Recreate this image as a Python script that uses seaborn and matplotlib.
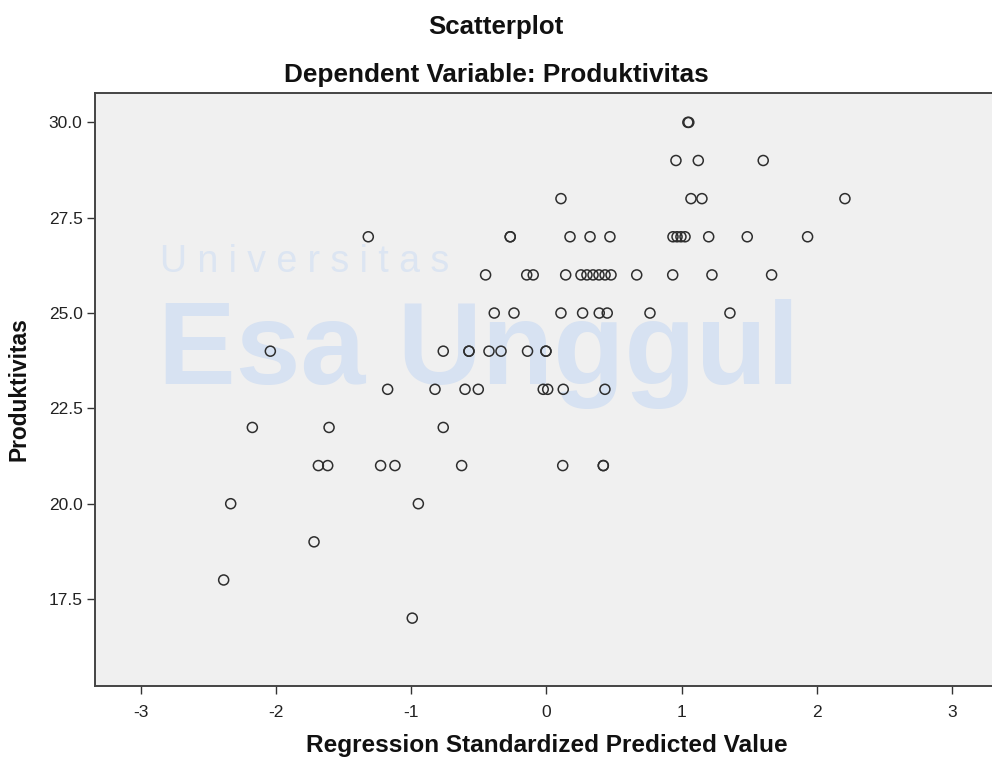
import matplotlib
matplotlib.use("Agg")
import matplotlib.pyplot as plt
import seaborn as sns
import pandas as pd

# ---- data ----
std_predicted = [
    1.045, 1.052,                                   # 30
    0.957, 1.122, 1.602,                            # 29
    0.107, 1.068, 1.149, 2.206,                     # 28
    -1.317, -0.268, -0.268, 0.174, 0.322, 0.469,
    0.935, 0.965, 0.994, 1.024, 1.199, 1.484, 1.930,  # 27
    -0.450, -0.146, -0.098, 0.142, 0.255, 0.299, 0.344,
    0.388, 0.433, 0.477, 0.667, 0.933, 1.223, 1.664,  # 26
    -0.386, -0.240, 0.107, 0.267, 0.390, 0.449, 0.765, 1.356,  # 25
    -2.041, -0.763, -0.573, -0.573, -0.425, -0.336, -0.140, -0.004, -0.004,  # 24
    -1.174, -0.824, -0.602, -0.504, -0.024, 0.009, 0.124, 0.432,  # 23
    -2.174, -1.607, -0.763,                         # 22
    -1.686, -1.617, -1.226, -1.120, -0.627, 0.120, 0.420, 0.420,  # 21
    -2.334, -0.947,                                 # 20
    -1.718,                                         # 19
    -2.386,                                         # 18
    -0.992,                                         # 17
]
produktivitas = (
    [30] * 2 + [29] * 3 + [28] * 4 + [27] * 13 + [26] * 14 + [25] * 8 +
    [24] * 9 + [23] * 8 + [22] * 3 + [21] * 8 + [20] * 2 + [19] + [18] + [17]
)
x_ticks = [-3, -2, -1, 0, 1, 2, 3]
x_tick_labels = ["-3", "-2", "-1", "0", "1", "2", "3"]
y_ticks = [17.5, 20.0, 22.5, 25.0, 27.5, 30.0]
y_tick_labels = ["17.5", "20.0", "22.5", "25.0", "27.5", "30.0"]

df = pd.DataFrame({"Regression Standardized Predicted Value": std_predicted,
                   "Produktivitas": produktivitas})

sns.set_style("white")
plt.rcParams["font.family"] = ["Liberation Sans", "DejaVu Sans"]

fig = plt.figure(figsize=(9.92, 7.62), dpi=100)
ax = fig.add_axes([95 / 992, 1 - 686 / 762, 1 - 95 / 992, (686 - 93) / 762])
ax.set_facecolor("#F0F0F0")

# faint watermark text (behind the data)
ax.text(0.073, 0.715, "U n i v e r s i t a s", transform=ax.transAxes,
        fontsize=27, color="#DCE5F2", ha="left", va="center", zorder=0)
ax.text(0.070, 0.560, "Esa Unggul", transform=ax.transAxes, fontsize=84,
        fontweight="bold", color="#D7E2F2", ha="left", va="center", zorder=0)

sns.scatterplot(data=df, x="Regression Standardized Predicted Value",
                y="Produktivitas", ax=ax, marker="o", s=52,
                facecolor="none", edgecolor="#2E2E2E", linewidth=1.1,
                zorder=3)

ax.set_xlim(-3.337, 3.293)
ax.set_ylim(15.22, 30.77)
ax.set_xticks(x_ticks)
ax.set_xticklabels(x_tick_labels)
ax.set_yticks(y_ticks)
ax.set_yticklabels(y_tick_labels)
ax.tick_params(axis="both", direction="out", length=6, width=1.0,
               color="#333333", labelsize=12.5, labelcolor="#222222",
               bottom=True, left=True, top=False, right=False)
ax.tick_params(axis="x", pad=8)
ax.tick_params(axis="y", pad=3)

for side in ["left", "bottom", "top"]:
    ax.spines[side].set_color("#444444")
    ax.spines[side].set_linewidth(1.4)
ax.spines["right"].set_visible(False)

ax.set_xlabel("Regression Standardized Predicted Value", fontsize=17.6,
              fontweight="bold", color="#111111")
ax.set_ylabel("Produktivitas", fontsize=16.4, fontweight="bold", color="#111111")
ax.xaxis.set_label_coords((546.5 - 95) / 897, (686 - 734) / 593)
ax.yaxis.set_label_coords((31 - 95) / 897, 0.5)

fig.text(0.5, 1 - 27 / 762, "Scatterplot", ha="center", va="center",
         fontsize=18.6, fontweight="bold", color="#111111")
fig.text(0.5, 1 - 75 / 762, "Dependent Variable: Produktivitas", ha="center",
         va="center", fontsize=18.8, fontweight="bold", color="#111111")

fig.savefig("out.png", dpi=100)
